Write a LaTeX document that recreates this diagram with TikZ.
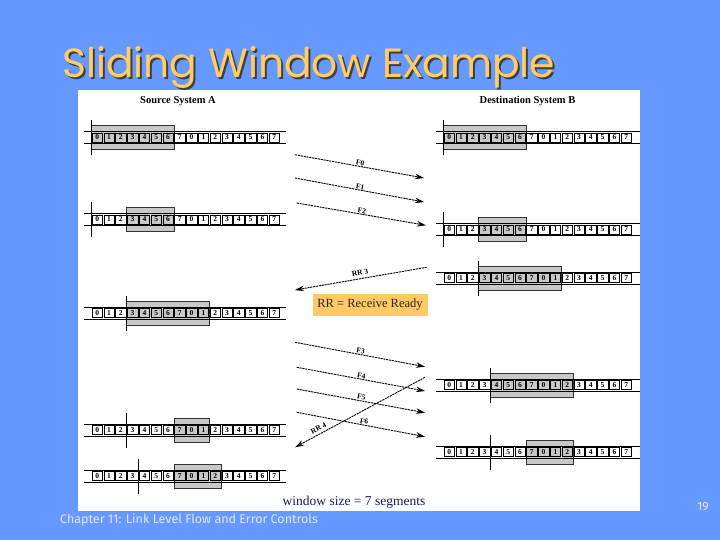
\documentclass[tikz,border=0pt]{standalone}
\usepackage{fontspec}
\setmainfont{Liberation Serif}
\newfontfamily\titlefont{Poppins}
\newfontfamily\footfont{Fira Sans}
\usetikzlibrary{arrows.meta}
\definecolor{bgblue}{HTML}{6699FF}
\definecolor{titleyel}{HTML}{FFCC66}
\definecolor{wingray}{HTML}{C8C8C8}
\definecolor{rrfill}{HTML}{FFC966}
\definecolor{navy}{HTML}{1A1A50}
\tikzset{
  cell/.style={draw=black, line width=0.5pt, minimum width=10.4pt, minimum height=9.4pt, inner sep=0pt,
    font=\fontsize{7.5}{7.5}\selectfont\bfseries},
  stripline/.style={draw=black, line width=0.6pt},
  winbox/.style={fill=wingray, draw=black!80, line width=0.6pt},
  pointer/.style={draw=black, line width=0.8pt},
  msg/.style={draw=black, line width=0.9pt, dash pattern=on 2.2pt off 0.7pt,
    -{Stealth[length=9pt,width=5.5pt]}},
  lbl/.style={font=\fontsize{7.5}{7.5}\selectfont\bfseries, inner sep=0.6pt},
  hdr/.style={font=\fontsize{10.5}{11}\selectfont\bfseries}
}
% #1 name, #2 x of first cell, #3 y centre, #4 line left, #5 line right,
% #6 window first cell, #7 window end cell, #8 pointer index
\newcommand{\mystrip}[8]{%
  \draw[winbox] ({#2+#6*11.8},{#3-12}) rectangle ({#2+#7*11.8},{#3+12});
  \draw[stripline] (#4,{#3-6.2}) -- (#5,{#3-6.2});
  \draw[stripline] (#4,{#3+6.2}) -- (#5,{#3+6.2});
  \foreach \i [evaluate=\i as \d using {int(mod(\i,8))}] in {0,...,15}{
    \node[cell] (#1-\i) at ({#2+(\i+0.5)*11.8},#3) {\d};
  }
  \draw[pointer] ({#2+#8*11.8},{#3-17.5}) -- ({#2+#8*11.8},{#3+17.5});
}
\begin{document}
\begin{tikzpicture}[x=1pt,y=-1pt]
\useasboundingbox (0,0) rectangle (720,540);
\fill[bgblue] (0,0) rectangle (720,540);
% title
\node[anchor=base west, inner sep=0pt, text=black!75] (titleshadow) at (64,80)
  {\resizebox{493pt}{!}{\titlefont Sliding Window Example}};
\node[anchor=base west, inner sep=0pt, text=titleyel] (title) at (62,78)
  {\resizebox{493pt}{!}{\titlefont Sliding Window Example}};
% panel
\fill[white] (78,90) rectangle (640,511);
\node[hdr] (hA) at (178,101) {Source System A};
\node[hdr] (hB) at (527.5,101) {Destination System B};
% source strips
\mystrip{LA}{91.3}{137.5}{84}{286}{0}{7}{0}
\mystrip{LB}{91.3}{219.5}{84}{286}{3}{7}{0}
\mystrip{LC}{91.3}{313}{84}{286}{3}{10}{3}
\mystrip{LD}{91.3}{430}{84}{286}{7}{10}{3}
\mystrip{LE}{91.3}{476}{84}{286}{7}{11}{4}
% destination strips
\mystrip{RA}{443.3}{137.5}{436}{640}{0}{7}{0}
\mystrip{RB}{443.3}{229.5}{436}{640}{3}{7}{0}
\mystrip{RC}{443.3}{278}{436}{640}{3}{10}{3}
\mystrip{RD}{443.3}{385}{436}{640}{4}{11}{4}
\mystrip{RE}{443.3}{452}{436}{640}{7}{11}{4}
% message coordinates
\coordinate (f0s) at (295,154.7); \coordinate (f0e) at (424,178);
\coordinate (f1s) at (295,178);   \coordinate (f1e) at (424,202);
\coordinate (f2s) at (296.7,203); \coordinate (f2e) at (426,225.3);
\coordinate (rr3s) at (426.7,267.3); \coordinate (rr3e) at (295,290);
\coordinate (f3s) at (295,342.3); \coordinate (f3e) at (425,366.7);
\coordinate (f4s) at (296.7,367.3); \coordinate (f4e) at (425,391);
\coordinate (f5s) at (296.7,389); \coordinate (f5e) at (425,412.7);
\coordinate (f6s) at (296.7,412.3); \coordinate (f6e) at (425,436.7);
\coordinate (rr4s) at (425,377.3); \coordinate (rr4e) at (295,447.3);
\draw[msg] (f0s) -- node[lbl, sloped, above] (lf0) {F0} (f0e);
\draw[msg] (f1s) -- node[lbl, sloped, above] (lf1) {F1} (f1e);
\draw[msg] (f2s) -- node[lbl, sloped, above] (lf2) {F2} (f2e);
\draw[msg] (rr3s) -- (rr3e);
\node[lbl, rotate=10] (lrr3) at (360,273) {RR 3};
\draw[msg] (f3s) -- node[lbl, sloped, above] (lf3) {F3} (f3e);
\draw[msg] (f4s) -- node[lbl, sloped, above] (lf4) {F4} (f4e);
\draw[msg] (f5s) -- node[lbl, sloped, above] (lf5) {F5} (f5e);
\draw[msg] (f6s) -- node[lbl, sloped, above, pos=0.52] (lf6) {F6} (f6e);
\draw[msg] (rr4s) -- (rr4e);
\node[lbl, rotate=28] (lrr4) at (318.5,428) {RR 4};
% RR legend
\node[fill=rrfill, minimum width=115pt, minimum height=22pt, inner sep=0pt,
  font=\fontsize{12.5}{13}\selectfont, text=black!85] (legend) at (370,305) {RR = Receive Ready};
\node[font=\fontsize{13.5}{14}\selectfont, text=navy] (wsize) at (354,502) {window size = 7 segments};
% footer
\node[anchor=base west, inner sep=0pt, font=\footfont\fontsize{12.5}{12.5}\selectfont, text=white!90!blue]
  (footer) at (60,523) {Chapter 11: Link Level Flow and Error Controls};
\node[font=\footfont\fontsize{12}{12}\selectfont, text=white!90!blue] (pnum) at (703,507) {19};
\end{tikzpicture}
\end{document}
